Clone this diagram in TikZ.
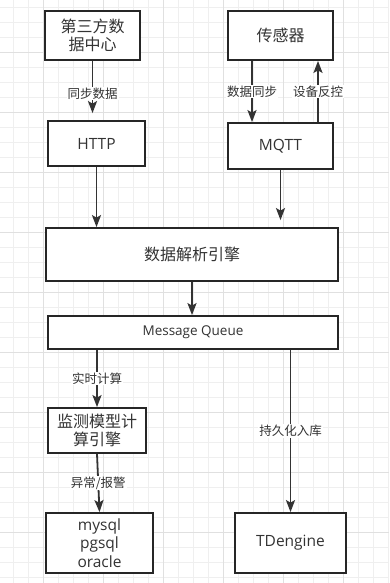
\documentclass[tikz,border=0pt]{standalone}
\usepackage{fontspec}
\setmainfont{Open Sans}
\newfontfamily\cjk{Noto Sans CJK SC}
\usetikzlibrary{arrows.meta}
\definecolor{gridminor}{HTML}{EFEFEF}
\definecolor{gridmajor}{HTML}{E0E0E0}
\definecolor{boxline}{HTML}{262626}
\definecolor{txt}{HTML}{333333}
\definecolor{arrline}{HTML}{333333}
\tikzset{
  box/.style={draw=boxline, line width=1.8pt, fill=white, align=center, text=txt,
    inner sep=0pt, font=\cjk\fontsize{16pt}{18.7pt}\selectfont},
  latinbox/.style={box, font=\fontsize{15.5pt}{18.7pt}\selectfont},
  arr/.style={draw=arrline, line width=1.8pt, -{Stealth[length=12pt,width=9pt,inset=2.5pt]}},
  lbl/.style={fill=white, text=txt, inner sep=1pt, font=\cjk\fontsize{12.5pt}{14pt}\selectfont}
}
\begin{document}
\begin{tikzpicture}[x=1pt,y=-1pt]
\useasboundingbox (0,0) rectangle (389,583);
\fill[white] (0,0) rectangle (389,583);
% grid
\foreach \i in {0,...,25} {\draw[gridminor, line width=0.8pt] ({13.3+15*\i},0) -- ({13.3+15*\i},583);}
\foreach \j in {0,...,38} {\draw[gridminor, line width=0.8pt] (0,{7.3+15*\j}) -- (389,{7.3+15*\j});}
\foreach \i in {0,...,5} {\draw[gridmajor, line width=0.8pt] ({43.3+60*\i},0) -- ({43.3+60*\i},583);}
\foreach \j in {0,...,8} {\draw[gridmajor, line width=0.8pt] (0,{52.3+60*\j}) -- (389,{52.3+60*\j});}

% nodes
\node[box, minimum width=95pt, minimum height=49pt] (src) at (92.5,35.5) {第三方数\\据中心};
\node[box, minimum width=105pt, minimum height=49pt] (sensor) at (280.5,35.5) {传感器};
\node[latinbox, minimum width=97pt, minimum height=45pt] (http) at (96.5,143.5) {HTTP};
\node[latinbox, minimum width=105pt, minimum height=46pt] (mqtt) at (280.5,146) {MQTT};
\node[box, minimum width=292pt, minimum height=53pt] (engine) at (192,254.5) {数据解析引擎};
\node[box, minimum width=290pt, minimum height=33pt, font=\fontsize{13.5pt}{16pt}\selectfont] (mq) at (193,332.5) {Message Queue};
\node[box, minimum width=98pt, minimum height=45pt] (model) at (97,430.5) {监测模型计\\算引擎};
\node[latinbox, minimum width=107pt, minimum height=60pt] (db) at (99.5,543) {mysql\\pgsql\\oracle};
\node[latinbox, minimum width=111pt, minimum height=60pt] (td) at (290.5,543) {TDengine};

% connectors
\draw[arr, shorten >=7pt] (src.south) -- (src.south |- http.north) node[lbl, midway, yshift=-3pt] {同步数据};
\draw[arr] ([xshift=-28.5pt]sensor.south) -- ([xshift=-28.5pt]sensor.south |- mqtt.north) node[lbl, midway] {数据同步};
\draw[arr] ([xshift=37.5pt]mqtt.north) -- ([xshift=37.5pt]mqtt.north |- sensor.south) node[lbl, midway] {设备反控};
\draw[arr] (http.south) -- (http.south |- engine.north);
\draw[arr, shorten >=7pt] (mqtt.south) -- (mqtt.south |- engine.north);
\draw[arr] (engine.south) -- (engine.south |- mq.north);
\draw[arr] (mq.south -| model.north) -- (model.north) node[lbl, midway] {实时计算};
\draw[arr] (model.south) -- (db.north) node[lbl, midway] {异常/报警};
\draw[arr] (mq.south -| td.north) -- (td.north) node[lbl, midway] {持久化入库};
\end{tikzpicture}
\end{document}
